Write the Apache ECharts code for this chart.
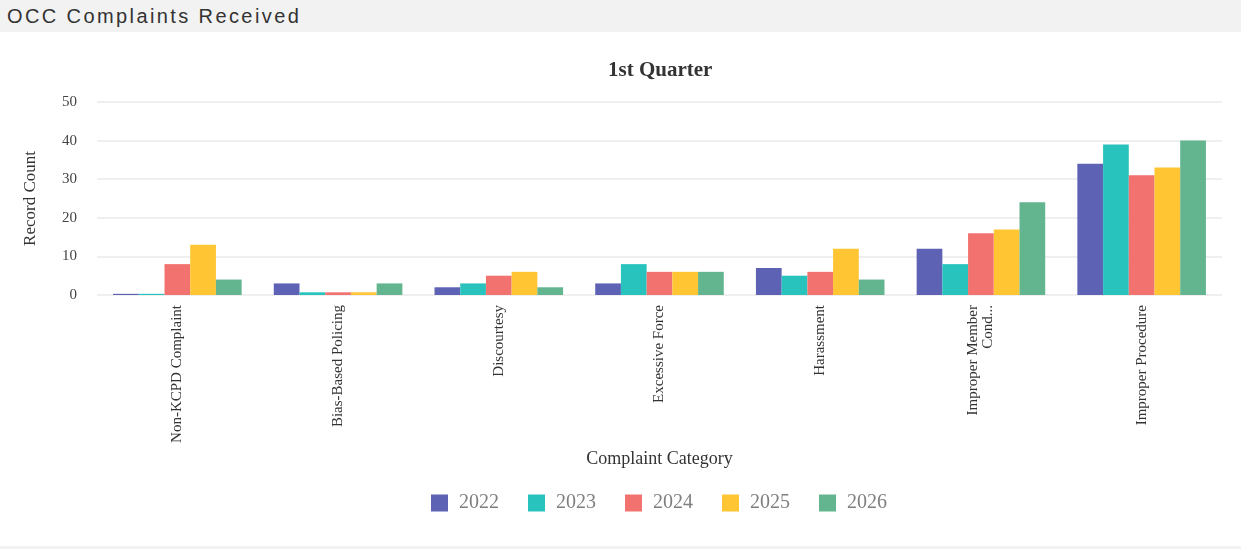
<!DOCTYPE html>
<html>
<head>
<meta charset="utf-8">
<script src="https://cdn.jsdelivr.net/npm/echarts@6/dist/echarts.min.js"></script>
<style>
  html, body { margin: 0; padding: 0; background: #ffffff; }
  #wrap { position: relative; width: 1241px; height: 550px; overflow: hidden; }
  #header { position: absolute; left: 0; top: 0; width: 1241px; height: 32px; background: #f2f2f2; z-index: 2;
    font-family: "Liberation Sans", Arial, sans-serif; font-size: 20px; color: #333; line-height: 32px; padding-left: 7px; box-sizing: border-box; letter-spacing: 2.4px; }
  #footer { position: absolute; left: 0; top: 546px; width: 1241px; height: 3px; background: #f2f2f2; z-index: 2; }
  #chart { position: absolute; left: 0; top: 0; width: 1241px; height: 550px; }
</style>
</head>
<body>
<div id="wrap">
  <div id="header">OCC Complaints Received</div>
  <div id="chart"></div>
  <div id="footer"></div>
</div>
<script>
const categories = ["Non-KCPD Complaint", "Bias-Based Policing", "Discourtesy", "Excessive Force", "Harassment", "Improper Member Conduct", "Improper Procedure"];
const tickLabels = ["Non-KCPD Complaint", "Bias-Based Policing", "Discourtesy", "Excessive Force", "Harassment", "Improper Member\nCond...", "Improper Procedure"];
const years = ["2022", "2023", "2024", "2025", "2026"];
const values2022 = [0.3, 3, 2, 3, 7, 12, 34];
const values2023 = [0.3, 0.7, 3, 8, 5, 8, 39];
const values2024 = [8, 0.7, 5, 6, 6, 16, 31];
const values2025 = [13, 0.7, 6, 6, 12, 17, 33];
const values2026 = [4, 3, 2, 6, 4, 24, 40];
const yTicks = [0, 10, 20, 30, 40, 50];
const colors = ["#5D62B5", "#29C3BE", "#F2726F", "#FFC533", "#62B58F"];

const seriesValues = [values2022, values2023, values2024, values2025, values2026];
const serif = "'Liberation Serif', 'Times New Roman', serif";

const chart = echarts.init(document.getElementById('chart'), null, { renderer: 'canvas' });
chart.setOption({
  animation: false,
  color: colors,
  title: {
    text: '1st Quarter',
    left: 603,
    top: 55,
    textStyle: { fontFamily: serif, fontSize: 21, fontWeight: 'bold', color: '#333' }
  },
  legend: {
    data: years,
    top: 488,
    left: 426,
    icon: 'rect',
    itemWidth: 17,
    itemHeight: 17,
    itemGap: 29,
    textStyle: { fontFamily: serif, fontSize: 20, color: '#7f7f7f', padding: [0, 0, 0, 6] }
  },
  grid: { left: 97, right: 19, top: 102, bottom: 255, containLabel: false },
  xAxis: {
    type: 'category',
    data: categories,
    name: 'Complaint Category',
    nameLocation: 'middle',
    nameGap: 155,
    nameTextStyle: { fontFamily: serif, fontSize: 18, color: '#333' },
    axisLine: { show: false },
    axisTick: { show: false },
    axisLabel: {
      rotate: 90,
      interval: 0,
      margin: 10,
      fontFamily: serif,
      fontSize: 15,
      color: '#333',
      formatter: (v, i) => tickLabels[i]
    }
  },
  yAxis: {
    type: 'value',
    min: 0,
    max: 50,
    interval: 10,
    name: 'Record Count',
    nameLocation: 'middle',
    nameRotate: 90,
    nameGap: 58,
    nameTextStyle: { fontFamily: serif, fontSize: 17, color: '#333' },
    axisLine: { show: false },
    axisTick: { show: false },
    axisLabel: {
      margin: 20,
      fontFamily: serif,
      fontSize: 15,
      color: '#444',
      formatter: v => (yTicks.includes(v) ? String(v) : '')
    },
    splitLine: { lineStyle: { color: '#efefef', width: 2 } }
  },
  series: years.map((y, i) => ({
    name: y,
    type: 'bar',
    data: seriesValues[i],
    barGap: '0%',
    barCategoryGap: '20%',
    itemStyle: { color: colors[i] }
  }))
});
</script>
</body>
</html>
